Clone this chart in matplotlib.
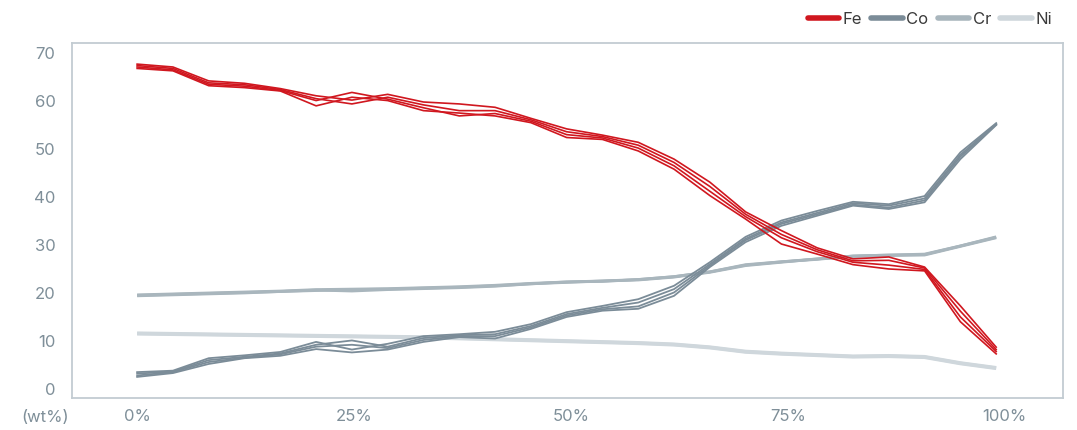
import numpy as np
from matplotlib import pyplot as plt
from matplotlib.lines import Line2D

plt.rcParams['font.family'] = ['Inter', 'DejaVu Sans']

# position along the sample (%), 25 measuring points
pos = np.linspace(0, 99, 25)

fe_runs = [
    [67.5, 66.9, 64.0, 63.5, 62.4, 60.9, 60.0, 61.2, 59.6, 59.2, 58.5, 56.2, 54.0, 52.7, 51.2, 47.7, 42.9, 36.7, 32.8, 29.2, 26.9, 27.3, 25.2, 17.1, 8.5],
    [67.2, 66.6, 63.6, 63.2, 62.2, 60.3, 59.2, 60.6, 59.0, 57.8, 57.8, 55.9, 53.4, 52.4, 50.6, 47.0, 42.0, 36.2, 32.0, 28.8, 26.5, 26.6, 25.0, 16.0, 8.0],
    [66.9, 66.3, 63.3, 62.9, 62.0, 59.9, 61.6, 60.2, 58.4, 56.7, 57.2, 55.6, 52.8, 52.1, 50.0, 46.3, 41.0, 35.7, 31.3, 28.4, 26.2, 25.6, 24.7, 14.8, 7.6],
    [66.6, 66.1, 63.0, 62.6, 61.9, 58.8, 60.6, 59.9, 57.8, 57.3, 56.7, 55.3, 52.2, 51.8, 49.4, 45.6, 40.1, 35.2, 30.0, 27.9, 25.7, 24.8, 24.4, 13.8, 7.1],
]

co_runs = [
    [3.3, 3.6, 6.2, 6.8, 7.5, 9.6, 8.0, 9.2, 10.8, 11.2, 11.7, 13.3, 15.8, 17.1, 18.5, 21.3, 26.2, 31.5, 34.9, 36.9, 38.8, 38.3, 40.0, 49.1, 55.2],
    [3.0, 3.4, 5.8, 6.5, 7.2, 9.0, 9.9, 8.6, 10.4, 11.0, 11.2, 12.9, 15.4, 16.7, 17.8, 20.6, 25.8, 31.1, 34.5, 36.5, 38.5, 38.0, 39.5, 48.6, 55.0],
    [2.6, 3.3, 5.4, 6.3, 7.0, 8.6, 9.0, 8.3, 10.0, 10.8, 10.8, 12.6, 15.1, 16.4, 17.0, 19.9, 25.5, 30.8, 34.2, 36.2, 38.2, 37.6, 39.1, 48.2, 54.9],
    [2.3, 3.1, 5.0, 6.2, 6.7, 8.1, 7.4, 8.0, 9.6, 10.6, 10.3, 12.3, 14.8, 16.1, 16.5, 19.2, 25.2, 30.4, 33.8, 35.9, 38.0, 37.3, 38.7, 47.7, 54.8],
]

cr_runs = [
    [19.4, 19.6, 19.8, 20.0, 20.2, 20.5, 20.6, 20.7, 20.9, 21.1, 21.4, 21.8, 22.1, 22.3, 22.6, 23.2, 24.2, 25.6, 26.3, 26.9, 27.5, 27.7, 27.8, 29.6, 31.5],
    [19.3, 19.5, 19.7, 19.9, 20.1, 20.4, 20.2, 20.5, 20.7, 20.9, 21.2, 21.7, 22.0, 22.3, 22.5, 23.1, 24.1, 25.5, 26.2, 26.9, 27.4, 27.6, 27.7, 29.5, 31.3],
    [19.2, 19.4, 19.6, 19.8, 20.1, 20.3, 20.5, 20.6, 20.8, 21.0, 21.3, 21.7, 22.1, 22.2, 22.6, 23.2, 24.2, 25.7, 26.3, 26.8, 27.5, 27.7, 27.9, 29.6, 31.4],
]

ni_runs = [
    [11.4, 11.3, 11.2, 11.1, 11.0, 10.9, 10.8, 10.7, 10.6, 10.4, 10.2, 10.0, 9.8, 9.6, 9.4, 9.1, 8.5, 7.6, 7.2, 6.9, 6.6, 6.7, 6.5, 5.2, 4.2],
    [11.3, 11.2, 11.1, 11.0, 10.9, 10.8, 10.7, 10.6, 10.5, 10.3, 10.1, 9.9, 9.7, 9.5, 9.3, 9.0, 8.4, 7.5, 7.1, 6.8, 6.5, 6.6, 6.4, 5.1, 4.1],
]

labels = ['Fe', 'Co', 'Cr', 'Ni']
colors = ['#d0171f', '#7b8c98', '#a9b6bd', '#cfd7dc']

tick_col = '#7f8f99'
frame_col = '#c3ccd2'
fsize = 12

fig = plt.figure(figsize=(10.77, 4.31), dpi=100)
ax = fig.add_axes([0.0669, 0.0742, 0.9201, 0.8237])

#Ni and Cr underneath, then Co, Fe on top
for run in ni_runs:
    ax.plot(pos, run, color=colors[3], lw=2.6, solid_capstyle='butt')
for run in cr_runs:
    ax.plot(pos, run, color=colors[2], lw=2.0, solid_capstyle='butt')
for run in co_runs:
    ax.plot(pos, run, color=colors[1], lw=1.3)
for run in fe_runs:
    ax.plot(pos, run, color=colors[0], lw=1.2)

ax.set_xlim(-7.5, 106.7)
ax.set_ylim(-2.1, 71.9)
ax.set_yticks(range(0, 71, 10))
ax.set_xticks([0, 25, 50, 75, 100])
ax.set_xticklabels(['0%', '25%', '50%', '75%', '100%'])
ax.tick_params(axis='both', length=0, colors=tick_col, labelsize=fsize)
ax.tick_params(axis='y', pad=12)
ax.tick_params(axis='x', pad=7)
for sp in ax.spines.values():
    sp.set_color(frame_col)
    sp.set_linewidth(1.3)

fig.text(45 / 1077, 1 - 418 / 431, '(wt%)', color=tick_col, fontsize=fsize,
         ha='center', va='center')

#Legend
handles = [Line2D([], [], color=c, lw=4, solid_capstyle='round') for c in colors]
fig.legend(handles, labels, loc='center right', bbox_to_anchor=(1060 / 1077, 1 - 20 / 431),
           ncol=4, frameon=False, fontsize=fsize, handlelength=1.9, handletextpad=0.2,
           columnspacing=0.55, borderpad=0, labelcolor='#3a3a3a')

fig.savefig('out.png', dpi=100)
